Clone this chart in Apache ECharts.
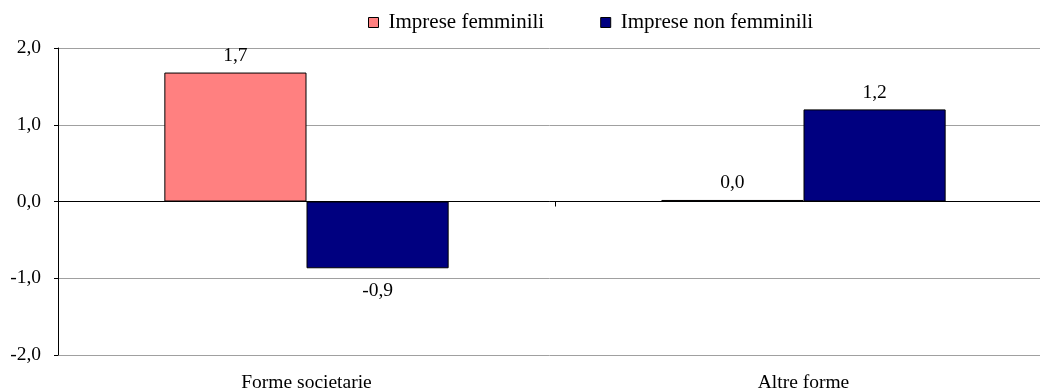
<!DOCTYPE html>
<html>
<head>
<meta charset="utf-8">
<script src="https://cdn.jsdelivr.net/npm/echarts@6/dist/echarts.min.js"></script>
<style>html,body{margin:0;padding:0;background:#fff}#c{width:1040px;height:390px}</style>
</head>
<body>
<div id="c"></div>
<script>
var categories = ['Forme societarie', 'Altre forme'];
var seriesNames = ['Imprese femminili', 'Imprese non femminili'];
var femminili = [1.68, 0.02];
var nonFemminili = [-0.87, 1.2];
var yTicks = [-2, -1, 0, 1, 2];
var colors = ['#FF8080', '#000080'];

var FONT = 'Liberation Serif, Times New Roman, serif';
function fmt(v){ return v.toFixed(1).replace('.', ','); }
function items(arr){
  return arr.map(function(v){
    return {value: v, label: v < 0 ? {position: 'bottom', distance: 13} : {position: 'top', distance: 7}};
  });
}
var chart = echarts.init(document.getElementById('c'), null, {renderer: 'canvas'});
chart.setOption({
  animation: false,
  backgroundColor: '#fff',
  textStyle: {fontFamily: FONT},
  legend: {
    top: 7, left: 363,
    itemWidth: 10, itemHeight: 10, itemGap: 56,
    textStyle: {fontFamily: FONT, fontSize: 21, color: '#000', padding: [0, 0, 0, 5]},
    data: seriesNames.map(function(n, i){
      return {name: n, icon: 'rect', itemStyle: {borderColor: '#000', borderWidth: 1, color: colors[i]}};
    })
  },
  grid: {left: 58, right: -12, top: 48, bottom: 35, containLabel: false, outerBoundsMode: 'none'},
  xAxis: [{
    type: 'category', data: categories, position: 'bottom',
    axisLine: {show: false, onZero: false}, axisTick: {show: false},
    axisLabel: {fontFamily: FONT, fontSize: 19.5, color: '#000', margin: 18}
  }, {
    type: 'category', data: categories, position: 'bottom',
    axisLine: {show: true, onZero: true, lineStyle: {color: '#000', width: 1}},
    axisTick: {show: true, length: 5, lineStyle: {color: '#000'}},
    axisLabel: {show: false}
  }],
  yAxis: {
    type: 'value', min: yTicks[0], max: yTicks[yTicks.length - 1], interval: 1,
    axisLine: {show: true, lineStyle: {color: '#000'}},
    axisTick: {show: true, length: 4, lineStyle: {color: '#000'}},
    axisLabel: {formatter: fmt, fontFamily: FONT, fontSize: 19.5, color: '#000', margin: 17},
    splitLine: {show: true, lineStyle: {color: '#a0a0a0', width: 1}}
  },
  series: [{
    name: seriesNames[0], type: 'bar', xAxisIndex: 0, data: items(femminili),
    barWidth: '28.6%', barGap: '0%',
    itemStyle: {color: colors[0], borderColor: '#000', borderWidth: 1},
    label: {show: true, formatter: function(p){ return fmt(p.value); }, fontFamily: FONT, fontSize: 19.5, color: '#000'}
  }, {
    name: seriesNames[1], type: 'bar', xAxisIndex: 0, data: items(nonFemminili),
    barWidth: '28.6%', barGap: '0%',
    itemStyle: {color: colors[1], borderColor: '#000', borderWidth: 1},
    label: {show: true, formatter: function(p){ return fmt(p.value); }, fontFamily: FONT, fontSize: 19.5, color: '#000'}
  }]
});
</script>
</body>
</html>
